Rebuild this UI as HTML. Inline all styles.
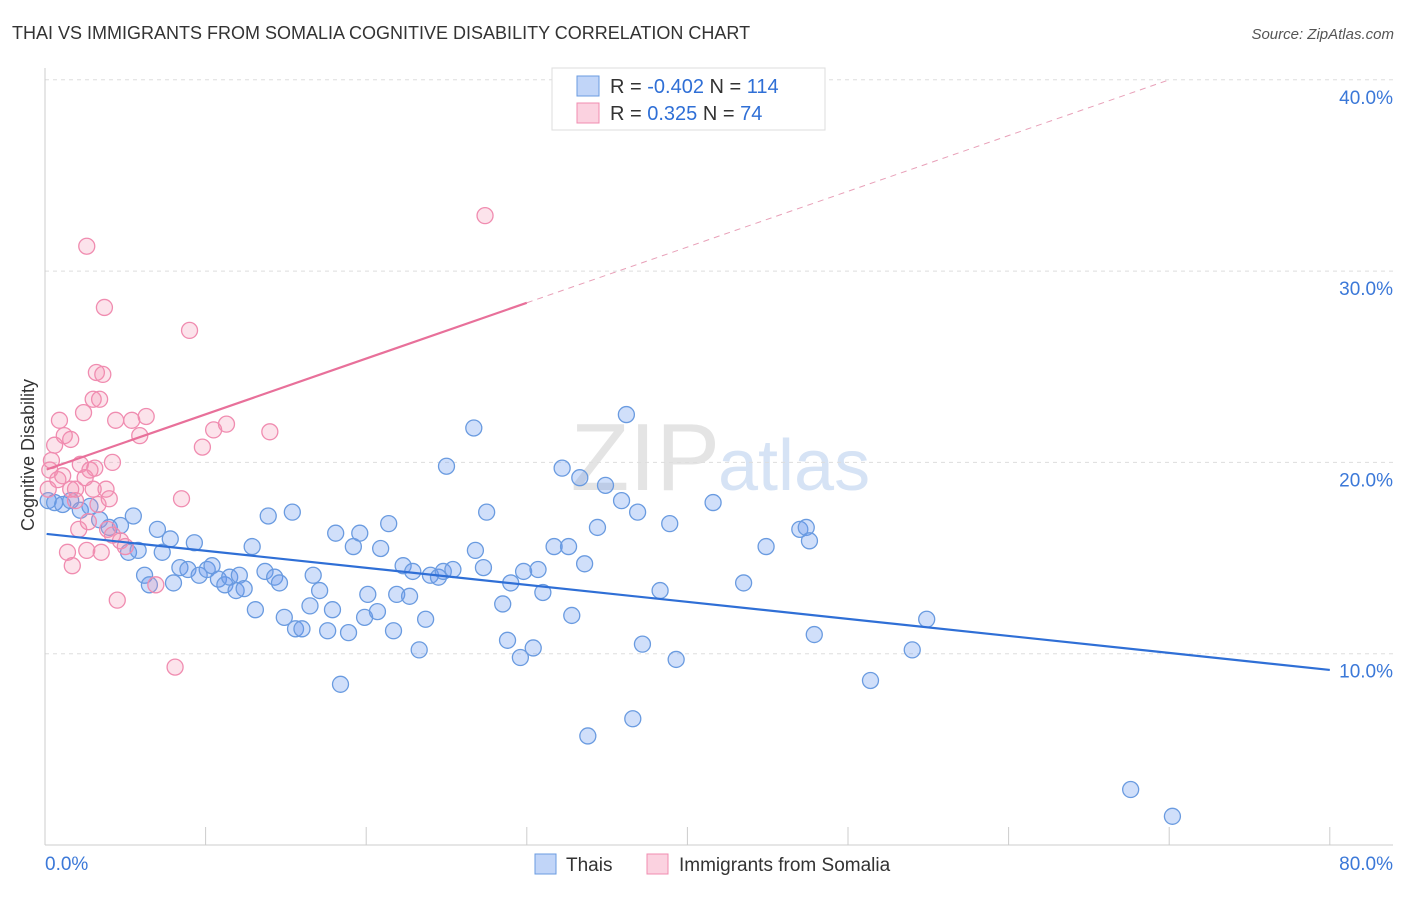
<!DOCTYPE html>
<html><head><meta charset="utf-8"><style>
body{margin:0;background:#fff;font-family:"Liberation Sans",sans-serif;}
svg text{font-family:"Liberation Sans",sans-serif;}
</style></head><body>
<svg id="chart" width="1406" height="892">
<text x="12" y="39" font-size="18" fill="#333">THAI VS IMMIGRANTS FROM SOMALIA COGNITIVE DISABILITY CORRELATION CHART</text>
<text x="1394" y="39" font-size="15" fill="#555" font-style="italic" text-anchor="end">Source: ZipAtlas.com</text>
<text x="720" y="490" font-size="96" fill="#e4e4e4" text-anchor="end" font-family="Liberation Serif">ZIP</text>
<text x="718" y="490" font-size="72" fill="#d6e3f5">atlas</text>
<g id="grid"></g><g id="axes"></g><g id="marks"></g>
<text transform="translate(34,455) rotate(-90)" font-size="18" fill="#333" text-anchor="middle">Cognitive Disability</text>
<g>
<rect x="552" y="68" width="273" height="62" fill="#fff" stroke="#ddd"/>
<rect x="577" y="76" width="22" height="20" fill="rgba(100,149,237,0.4)" stroke="#6a9be0"/>
<rect x="577" y="103" width="22" height="20" fill="rgba(244,143,177,0.4)" stroke="#f08cb0"/>
<text x="610" y="93" font-size="20" fill="#333">R = <tspan fill="#2f6fd6">-0.402</tspan>   N = <tspan fill="#2f6fd6">114</tspan></text>
<text x="610" y="120" font-size="20" fill="#333">R =   <tspan fill="#2f6fd6">0.325</tspan>   N =   <tspan fill="#2f6fd6">74</tspan></text>
</g>
<g>
<rect x="535" y="854" width="21" height="20" fill="rgba(100,149,237,0.4)" stroke="#6a9be0"/>
<text x="566" y="871" font-size="19" fill="#333">Thais</text>
<rect x="647" y="854" width="21" height="20" fill="rgba(244,143,177,0.4)" stroke="#f08cb0"/>
<text x="679" y="871" font-size="19" fill="#333">Immigrants from Somalia</text>
</g>
</svg>
<script>
const yTicks=[10,20,30,40];
const yTickLabels=["10.0%","20.0%","30.0%","40.0%"];
const xTicks=[0,10,20,30,40,50,60,70,80,90,100];
const blueX=[0.2,0.6,1.1,1.6,2.2,2.8,3.4,4.0,4.7,5.5,5.2,5.8,6.2,6.5,7.0,7.3,7.8,8.0,8.4,8.9,9.3,9.6,10.1,10.4,10.8,11.2,11.5,11.9,12.1,12.4,12.9,13.1,13.7,13.9,14.3,14.6,14.9,15.4,15.6,16.0,16.5,16.7,17.1,17.6,17.9,18.1,18.4,18.9,19.2,19.6,19.9,20.1,20.7,20.9,21.4,21.7,21.9,22.3,22.7,22.9,23.3,23.7,24.0,24.5,24.8,25.0,25.4,26.7,26.8,27.3,27.5,28.5,28.8,29.0,29.6,29.8,30.4,30.7,31.0,31.7,32.2,32.6,32.8,33.3,33.6,33.8,34.4,34.9,35.9,36.2,36.6,36.9,37.2,38.3,38.9,39.3,41.6,43.5,44.9,47.0,47.4,47.6,47.9,51.4,54.0,54.9,67.6,70.2];
const blueY=[18.0,17.9,17.8,18.0,17.5,17.7,17.0,16.6,16.7,17.2,15.3,15.4,14.1,13.6,16.5,15.3,16.0,13.7,14.5,14.4,15.8,14.1,14.4,14.6,13.9,13.6,14.0,13.3,14.1,13.4,15.6,12.3,14.3,17.2,14.0,13.7,11.9,17.4,11.3,11.3,12.5,14.1,13.3,11.2,12.3,16.3,8.4,11.1,15.6,16.3,11.9,13.1,12.2,15.5,16.8,11.2,13.1,14.6,13.0,14.3,10.2,11.8,14.1,14.0,14.3,19.8,14.4,21.8,15.4,14.5,17.4,12.6,10.7,13.7,9.8,14.3,10.3,14.4,13.2,15.6,19.7,15.6,12.0,19.2,14.7,5.7,16.6,18.8,18.0,22.5,6.6,17.4,10.5,13.3,16.8,9.7,17.9,13.7,15.6,16.5,16.6,15.9,11.0,8.6,10.2,11.8,2.9,1.5];
const pinkX=[0.3,0.4,0.6,0.2,0.8,0.9,1.1,1.2,1.4,1.6,1.7,1.9,2.1,2.2,2.4,2.6,2.6,2.8,3.0,3.0,3.2,3.3,3.5,3.6,3.7,3.8,3.9,4.0,4.2,4.4,4.5,4.7,5.0,5.4,5.9,6.3,6.9,8.1,8.5,9.0,9.8,10.5,11.3,14.0,27.4,2.5,3.1,3.4,1.6,1.9,2.7,4.2];
const pinkY=[19.6,20.1,20.9,18.6,19.1,22.2,19.3,21.4,15.3,21.2,14.6,18.6,16.5,19.9,22.6,15.4,31.3,19.6,18.6,23.3,24.7,17.8,15.3,24.6,28.1,18.6,16.5,18.1,20.0,22.2,12.8,15.9,15.6,22.2,21.4,22.4,13.6,9.3,18.1,26.9,20.8,21.7,22.0,21.6,32.9,19.2,19.7,23.3,18.6,18.0,16.9,16.2];
const blueTrend=[16.26,9.15];
const pinkTrend=[19.6,40];
const X=v=>45+v*16.06, Y=v=>845-v*19.13;
const NS="http://www.w3.org/2000/svg";
function mk(p,t,a){const e=document.createElementNS(NS,t);for(const k in a)e.setAttribute(k,a[k]);p.appendChild(e);return e;}
const grid=document.getElementById('grid'),axes=document.getElementById('axes'),marks=document.getElementById('marks');
yTicks.forEach((t,i)=>{
 const l=mk(grid,'line',{x1:45,x2:1393,y1:Y(t),y2:Y(t),stroke:'#ddd','stroke-dasharray':'4,4'});
 
 
 const tx=mk(axes,'text',{x:1393,y:Y(t)+24,'font-size':19,fill:'#3b78d8','text-anchor':'end'});tx.textContent=yTickLabels[i];
 
 
});
const ax=mk(axes,'line',{x1:45,x2:1393,y1:845,y2:845,stroke:'#ccc'});


const ay=mk(axes,'line',{x1:45,x2:45,y1:68,y2:845,stroke:'#ccc'});


xTicks.forEach(t=>{if(X(t)>1335)return;const l=mk(axes,'line',{x1:X(t),x2:X(t),y1:827,y2:845,stroke:'#ccc'});
 
 });
const x0=mk(axes,'text',{x:45,y:870,'font-size':19,fill:'#3b78d8'});x0.textContent='0.0%';


const x1=mk(axes,'text',{x:1393,y:870,'font-size':19,fill:'#3b78d8','text-anchor':'end'});x1.textContent='80.0%';


blueX.forEach((v,i)=>{const c=mk(marks,'circle',{cx:X(v),cy:Y(blueY[i]),r:8,fill:'rgba(100,149,237,0.3)',stroke:'#6a9be0','stroke-width':1.3});
 
 });
pinkX.forEach((v,i)=>{const c=mk(marks,'circle',{cx:X(v),cy:Y(pinkY[i]),r:8,fill:'rgba(244,143,177,0.25)',stroke:'#f08cb0','stroke-width':1.3});
 
 });
const bl=mk(marks,'line',{x1:X(0.1),y1:Y(blueTrend[0]),x2:X(80),y2:Y(blueTrend[1]),stroke:'#2f6fd6','stroke-width':2.2});


const pv=x=>pinkTrend[0]+(pinkTrend[1]-pinkTrend[0])*x/70;
const pl=mk(marks,'line',{x1:X(0.1),y1:Y(pv(0.1)),x2:X(30),y2:Y(pv(30)),stroke:'#e8709a','stroke-width':2.2});


const pd=mk(marks,'line',{x1:X(30),y1:Y(pv(30)),x2:X(70),y2:Y(pv(70)),stroke:'#e8a0b8','stroke-width':1,'stroke-dasharray':'6,5'});


</script>
</body></html>
